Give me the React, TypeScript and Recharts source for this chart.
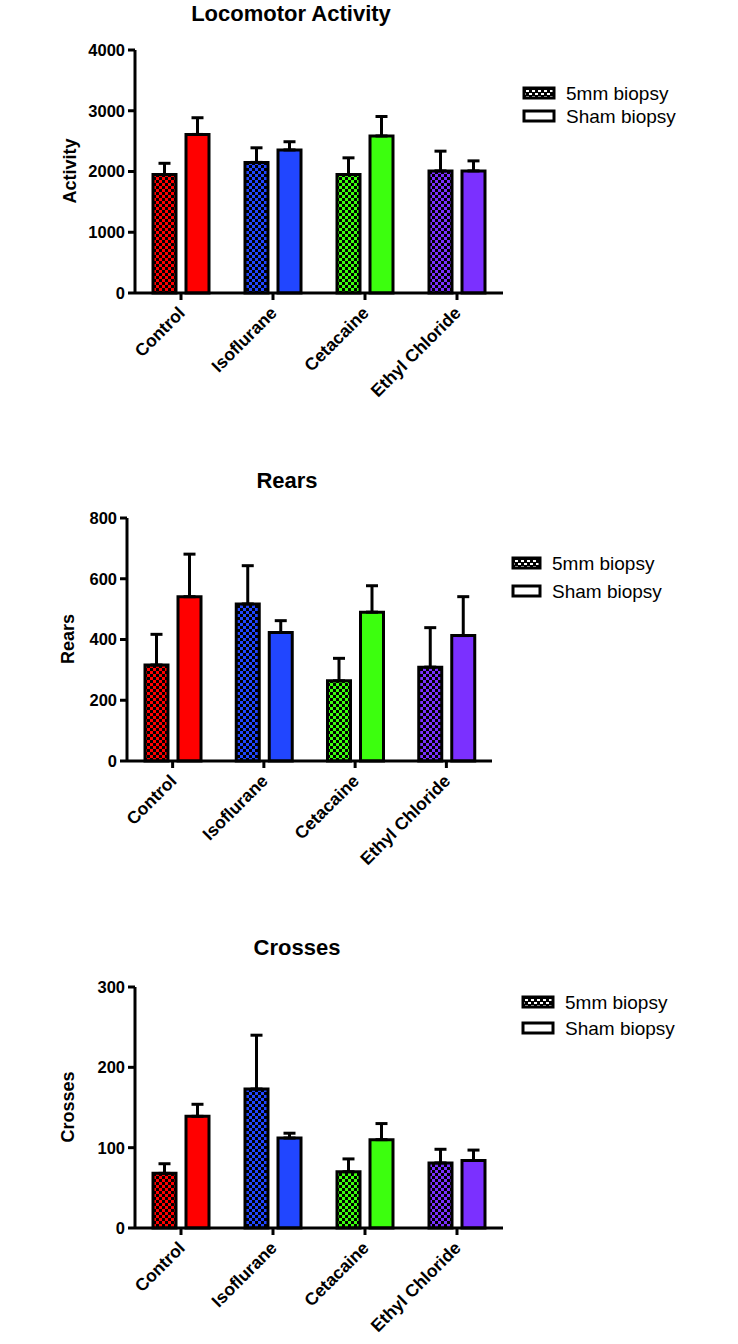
import React from 'react';
import { BarChart, Bar, XAxis, YAxis, ErrorBar, Cell, Legend } from 'recharts';

const categories = ['Control', 'Isoflurane', 'Cetacaine', 'Ethyl Chloride'];
const seriesNames = ['5mm biopsy', 'Sham biopsy'];
const groupColors = ['#ff0000', '#2146ff', '#3cff0e', '#7b30ff'];

const activityBiopsy = [1950, 2150, 1950, 2010];
const activityBiopsyErr = [185, 240, 275, 325];
const activitySham = [2610, 2355, 2585, 2010];
const activityShamErr = [275, 135, 320, 165];
const activityTicks = [0, 1000, 2000, 3000, 4000];

const rearsBiopsy = [316, 517, 264, 309];
const rearsBiopsyErr = [101, 126, 74, 130];
const rearsSham = [541, 423, 490, 413];
const rearsShamErr = [140, 39, 87, 128];
const rearsTicks = [0, 200, 400, 600, 800];

const crossesBiopsy = [68, 173, 70, 81];
const crossesBiopsyErr = [12, 67, 16, 17];
const crossesSham = [139, 112, 110, 84];
const crossesShamErr = [15, 6, 20, 13];
const crossesTicks = [0, 100, 200, 300];

const FONT = '"Liberation Sans", Arial, Helvetica, sans-serif';

function buildRows(b: number[], be: number[], s: number[], se: number[]) {
  return categories.map((name, i) => ({
    name,
    biopsy: b[i],
    biopsyErr: [0, be[i]],
    sham: s[i],
    shamErr: [0, se[i]],
  }));
}

const CatTick = (props: any) => {
  const { x, y, payload } = props;
  const ax = x + 5;
  const ay = y + 12;
  return (
    <text
      x={ax}
      y={ay}
      transform={`rotate(-45, ${ax}, ${ay})`}
      textAnchor="end"
      fontFamily={FONT}
      fontSize={17.5}
      fontWeight="bold"
      fill="#000"
    >
      {payload.value}
    </text>
  );
};

type PanelProps = {
  id: string;
  data: any[];
  ticks: number[];
  top: number;
  height: number;
  margin: { top: number; right: number; bottom: number; left: number };
  legendLeft: number;
  legendTop: number;
  legendBox: number;
  legendGap: number;
};

const Panel = ({ id, data, ticks, top, height, margin, legendLeft, legendTop, legendBox, legendGap }: PanelProps) => {
  const renderLegend = (p: any) => {
    const payload = p.payload || [];
    return (
      <svg width={200} height={60} style={{ overflow: 'visible' }}>
        {payload.map((entry: any, i: number) => {
          const cy = 8 + i * legendGap;
          return (
            <g key={i}>
              <rect
                x={2}
                y={cy - 5}
                width={legendBox}
                height={10}
                fill={i === 0 ? `url(#${id}-legchk)` : '#fff'}
                stroke="#000"
                strokeWidth={3}
              />
              <text x={legendBox + 14} y={cy + 7} fontFamily={FONT} fontSize={19} fill="#000">
                {entry.value}
              </text>
            </g>
          );
        })}
      </svg>
    );
  };

  return (
    <div style={{ position: 'absolute', left: 0, top }}>
      <BarChart width={738} height={height} data={data} margin={margin} barGap={10}>
        <defs>
          {groupColors.map((c, i) => (
            <pattern key={i} id={`${id}-chk-${i}`} width={6} height={6} patternUnits="userSpaceOnUse">
              <rect width={6} height={6} fill={c} />
              <rect x={0} y={0} width={3} height={3} fill="#000" />
              <rect x={3} y={3} width={3} height={3} fill="#000" />
            </pattern>
          ))}
          <pattern id={`${id}-legchk`} width={6} height={6} patternUnits="userSpaceOnUse" x={1} y={1}>
            <rect width={6} height={6} fill="#000" />
            <rect x={0} y={1} width={3} height={2} fill="#fff" />
            <rect x={3} y={4} width={3} height={2} fill="#fff" />
          </pattern>
        </defs>
        <XAxis
          dataKey="name"
          type="category"
          height={100}
          interval={0}
          tickSize={7}
          tickLine={{ stroke: '#000', strokeWidth: 3 }}
          axisLine={{ stroke: '#000', strokeWidth: 3 }}
          tick={<CatTick />}
        />
        <YAxis
          type="number"
          width={60}
          domain={[0, ticks[ticks.length - 1]]}
          ticks={ticks}
          interval={0}
          tickSize={7}
          tickMargin={3}
          tickLine={{ stroke: '#000', strokeWidth: 3 }}
          axisLine={{ stroke: '#000', strokeWidth: 3 }}
          tick={{ fontSize: 16.5, fontWeight: 'bold', fill: '#000', fontFamily: FONT }}
        />
        <Legend
          layout="vertical"
          align="center"
          verticalAlign="middle"
          wrapperStyle={{ left: legendLeft, top: legendTop, width: 200, height: 60 }}
          content={renderLegend}
        />
        <Bar
          dataKey="biopsy"
          name={seriesNames[0]}
          barSize={23}
          fill="#000"
          stroke="#000"
          strokeWidth={3}
          isAnimationActive={false}
        >
          {data.map((_, i) => (
            <Cell key={i} fill={`url(#${id}-chk-${i})`} />
          ))}
          <ErrorBar dataKey="biopsyErr" width={6} stroke="#000" strokeWidth={3} direction="y" />
        </Bar>
        <Bar
          dataKey="sham"
          name={seriesNames[1]}
          barSize={23}
          fill="#fff"
          stroke="#000"
          strokeWidth={3}
          isAnimationActive={false}
        >
          {data.map((_, i) => (
            <Cell key={i} fill={groupColors[i]} />
          ))}
          <ErrorBar dataKey="shamErr" width={6} stroke="#000" strokeWidth={3} direction="y" />
        </Bar>
      </BarChart>
    </div>
  );
};

const activityRows = buildRows(activityBiopsy, activityBiopsyErr, activitySham, activityShamErr);
const rearsRows = buildRows(rearsBiopsy, rearsBiopsyErr, rearsSham, rearsShamErr);
const crossesRows = buildRows(crossesBiopsy, crossesBiopsyErr, crossesSham, crossesShamErr);

export default function App() {
  return (
    <div
      style={{
        position: 'absolute',
        left: 0,
        top: 0,
        width: 738,
        height: 1344,
        background: '#fff',
        fontFamily: FONT,
        overflow: 'hidden',
      }}
    >
      <Panel
        id="act"
        data={activityRows}
        ticks={activityTicks}
        top={0}
        height={440}
        margin={{ top: 50, right: 235, bottom: 47, left: 75 }}
        legendLeft={522}
        legendTop={85}
        legendBox={30}
        legendGap={23}
      />
      <Panel
        id="rears"
        data={rearsRows}
        ticks={rearsTicks}
        top={440}
        height={440}
        margin={{ top: 78, right: 246, bottom: 19, left: 67 }}
        legendLeft={511}
        legendTop={555 - 440}
        legendBox={27}
        legendGap={28}
      />
      <Panel
        id="cross"
        data={crossesRows}
        ticks={crossesTicks}
        top={900}
        height={444}
        margin={{ top: 87, right: 235, bottom: 16, left: 75 }}
        legendLeft={521}
        legendTop={994 - 900}
        legendBox={30}
        legendGap={26}
      />
      <svg
        width={738}
        height={1344}
        style={{ position: 'absolute', left: 0, top: 0, pointerEvents: 'none' }}
      >
        <g fontFamily={FONT} fontWeight="bold" fill="#000">
          <text x={291} y={21} fontSize={22} textAnchor="middle">Locomotor Activity</text>
          <text x={287} y={488} fontSize={22} textAnchor="middle">Rears</text>
          <text x={297} y={955} fontSize={22} textAnchor="middle">Crosses</text>
          <text x={70} y={171} fontSize={18} textAnchor="middle" dominantBaseline="central" transform="rotate(-90, 70, 171)">Activity</text>
          <text x={68} y={639} fontSize={18} textAnchor="middle" dominantBaseline="central" transform="rotate(-90, 68, 639)">Rears</text>
          <text x={68} y={1107} fontSize={18} textAnchor="middle" dominantBaseline="central" transform="rotate(-90, 68, 1107)">Crosses</text>
        </g>
      </svg>
    </div>
  );
}
